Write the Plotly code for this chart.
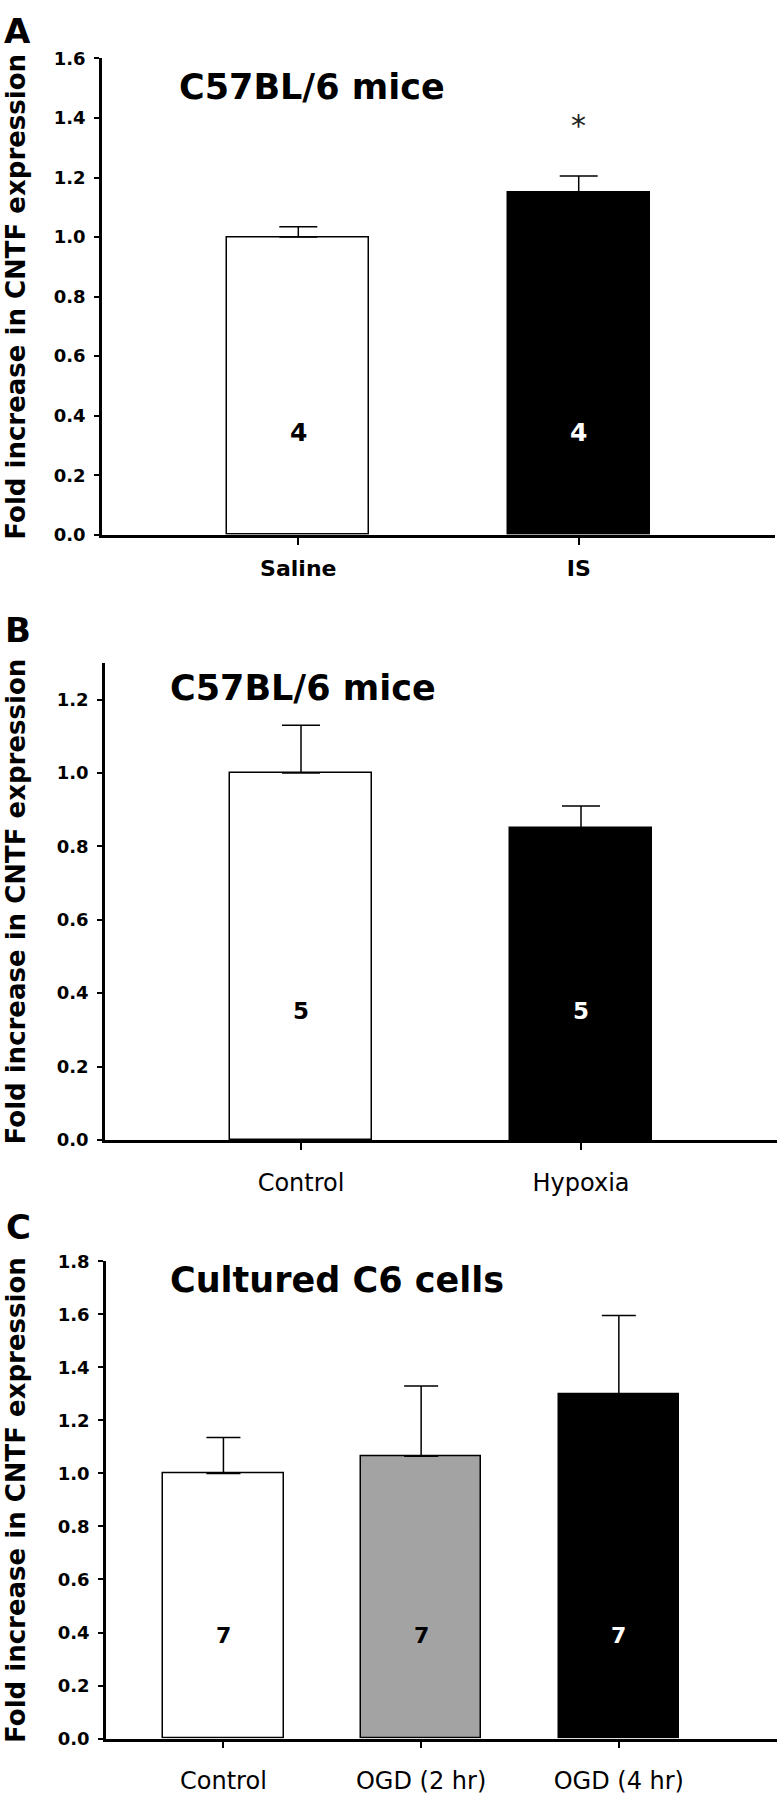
import plotly.graph_objects as go

# ---------------- data ----------------
a_groups = ["Saline", "IS"]
a_means = [1.00, 1.15]
a_err = [0.035, 0.055]
a_n = ["4", "4"]

b_groups = ["Control", "Hypoxia"]
b_means = [1.00, 0.85]
b_err = [0.13, 0.06]
b_n = ["5", "5"]

c_groups = ["Control", "OGD (2 hr)", "OGD (4 hr)"]
c_means = [1.00, 1.065, 1.30]
c_err = [0.135, 0.265, 0.295]
c_n = ["7", "7", "7"]

y_title = "Fold increase in CNTF expression"

W, H = 781, 1800
FONT = "DejaVu Sans"


def px(x):
    return x / W


def py(y):
    return 1 - y / H


# per panel layout, pixel positions
panels = [
    dict(groups=a_groups, means=a_means, err=a_err, n=a_n,
         colors=["white", "black"], xdom=(102, 775), ydom=(48, 530),
         yr=1.6, xr=[-0.70, 1.70], bw=0.507, cap=19, n_y=0.343,
         n_size=25, xbold=True, xstand=5, title="C57BL/6 mice", title_pos=(177, 77),
         letter="A", letter_pos=(17, 20)),
    dict(groups=b_groups, means=b_means, err=b_err, n=b_n,
         colors=["white", "black"], xdom=(105, 777), ydom=(659.6, 1142.3),
         yr=1.3, xr=[-0.70, 1.70], bw=0.507, cap=19, n_y=0.352,
         n_size=23, xbold=False, xstand=12, title="C57BL/6 mice", title_pos=(168, 685),
         letter="B", letter_pos=(18, 626)),
    dict(groups=c_groups, means=c_means, err=c_err, n=c_n,
         colors=["white", "#a3a3a3", "black"], xdom=(106, 777), ydom=(1265, 1748),
         yr=1.8, xr=[-0.594, 2.80], bw=0.608, cap=17, n_y=0.39,
         n_size=22, xbold=False, xstand=12, title="Cultured C6 cells", title_pos=(168, 1284),
         letter="C", letter_pos=(18, 1230)),
]

fig = go.Figure()
annotations = []

for i, p in enumerate(panels):
    k = "" if i == 0 else str(i + 1)
    xa, ya = "x" + k, "y" + k
    fig.add_trace(go.Bar(
        x=p["groups"], y=p["means"], width=p["bw"],
        marker=dict(color=p["colors"], line=dict(color="black", width=1.5)),
        error_y=dict(type="data", symmetric=False, array=p["err"],
                     arrayminus=[0] * len(p["err"]), color="black",
                     thickness=1.5, width=p["cap"]),
        xaxis=xa, yaxis=ya, showlegend=False, hoverinfo="skip"))

    # n labels inside bars
    for g, c, n in zip(p["groups"], p["colors"], p["n"]):
        annotations.append(dict(
            x=g, y=p["n_y"], xref=xa, yref=ya, text=n, showarrow=False,
            font=dict(family=FONT, size=p["n_size"], weight="bold",
                      color="white" if c == "black" else "black")))

    annotations.append(dict(
        x=px(p["title_pos"][0]), y=py(p["title_pos"][1]), xref="paper", yref="paper",
        xanchor="left", yanchor="middle", text=p["title"], showarrow=False,
        font=dict(family=FONT, size=35, weight="bold", color="black")))
    annotations.append(dict(
        x=px(p["letter_pos"][0]), y=py(p["letter_pos"][1]), xref="paper", yref="paper",
        xanchor="center", yanchor="middle", text=p["letter"], showarrow=False,
        font=dict(family=FONT, size=34, weight="bold", color="black")))
    annotations.append(dict(
        x=px(16), y=py(sum(p["ydom"]) / 2), xref="paper", yref="paper",
        xanchor="center", yanchor="middle", textangle=-90, text=y_title,
        showarrow=False, font=dict(family=FONT, size=26, weight="bold", color="black")))

    fig.layout["xaxis" + k] = dict(
        domain=[px(p["xdom"][0]), px(p["xdom"][1])], anchor=ya, range=p["xr"],
        showline=True, linecolor="black", linewidth=2.5, ticks="outside",
        ticklen=7, tickwidth=2, tickcolor="black", showgrid=False, zeroline=False,
        ticklabelstandoff=p["xstand"],
        tickfont=dict(family=FONT, size=22 if p["xbold"] else 24,
                      weight="bold" if p["xbold"] else "normal", color="black"))
    fig.layout["yaxis" + k] = dict(
        domain=[py(p["ydom"][1]), py(p["ydom"][0])], anchor=xa, range=[0, p["yr"]],
        tick0=0, dtick=0.2, tickformat=".1f",
        showline=True, linecolor="black", linewidth=2.5, ticks="outside",
        ticklen=5, tickwidth=2, tickcolor="black", showgrid=False, zeroline=False,
        ticklabelstandoff=5,
        tickfont=dict(family=FONT, size=18, weight="bold", color="black"))

# significance star over IS
annotations.append(dict(
    x=a_groups[1], y=1.375, xref="x", yref="y", text="*", showarrow=False,
    font=dict(family=FONT, size=30, color="#222222")))

fig.update_layout(
    width=W, height=H, autosize=False,
    margin=dict(l=0, r=0, t=0, b=0),
    paper_bgcolor="white", plot_bgcolor="white",
    annotations=annotations, bargap=0)

fig.write_html("out.html", config={"displayModeBar": False},
               post_script="document.body.style.margin='0';")
